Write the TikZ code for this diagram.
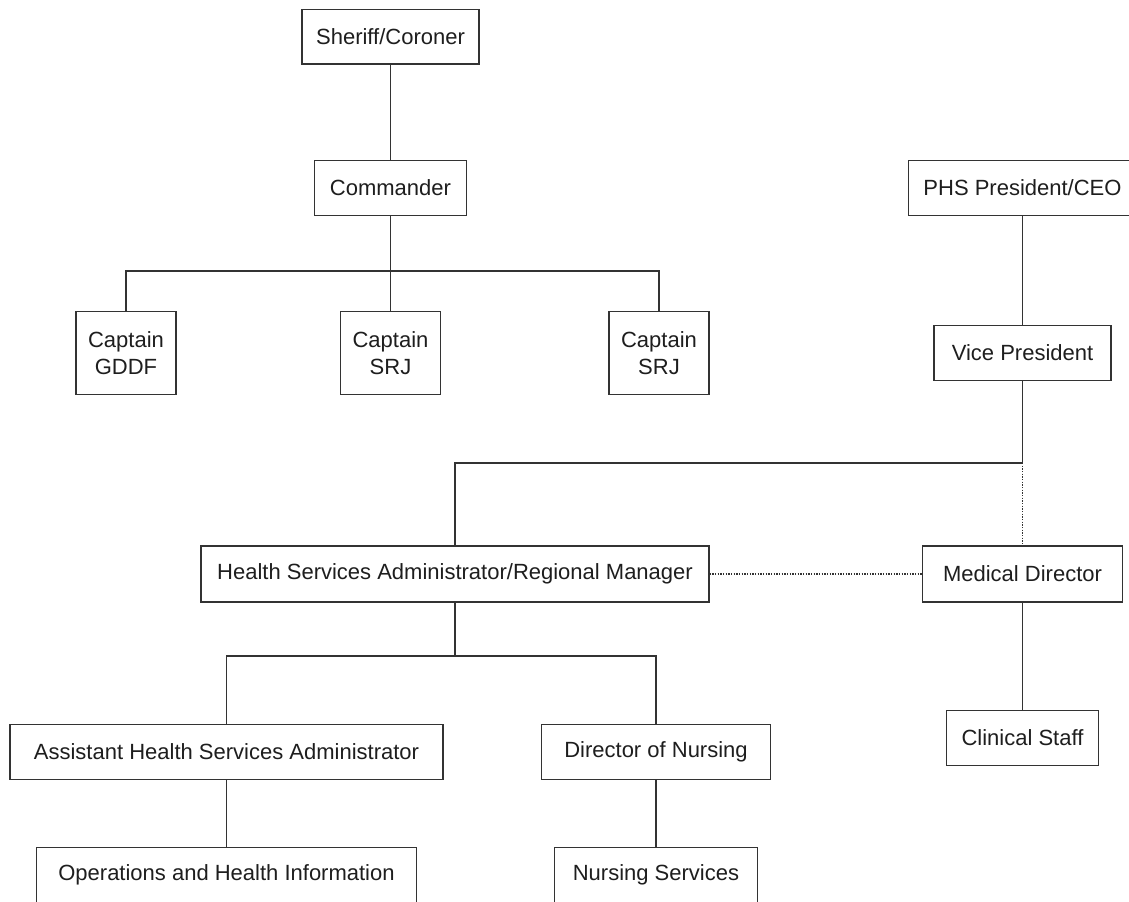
\documentclass[tikz,border=0pt]{standalone}
\usepackage{fontspec}
\setmainfont{Liberation Sans}
\definecolor{orgline}{RGB}{51,51,51}
\definecolor{orgtext}{RGB}{30,30,30}
\tikzset{every picture/.style={line width=1pt}}
\tikzset{orgbox/.style={draw=orgline, fill=white, text=orgtext, align=center, inner sep=0pt, minimum height=41pt, font=\fontsize{16.5}{20.6}\selectfont},
  tallbox/.style={orgbox, minimum height=62.25pt},
  orglink/.style={draw=orgline},
  duallink/.style={draw=orgline, densely dotted}}

\begin{document}
\begin{tikzpicture}[x=0.75pt,y=0.75pt,yscale=-1,xscale=1]
        \useasboundingbox (0,0) rectangle (1129,901);

        % Text Node
        \node [orgbox, minimum width=132.75pt] (sheriff) at (390.5,36.5) {Sheriff/Coroner};
        % Text Node
        \node [orgbox, minimum width=114pt] (commander) at (390.5,188) {Commander};
        % Text Node
        \node [tallbox, minimum width=75pt] (capgddf) at (126,353) {Captain\\GDDF};
        % Text Node
        \node [tallbox, minimum width=75pt] (capsrja) at (390.5,353) {Captain\\SRJ};
        % Text Node
        \node [tallbox, minimum width=75pt] (capsrjb) at (659,353) {Captain\\SRJ};
        % Text Node
        \node [orgbox, minimum width=171pt] (phs) at (1022.5,188) {PHS President/CEO};
        % Text Node
        \node [orgbox, minimum width=132.75pt] (vp) at (1022.5,353) {Vice President};
        % Text Node
        \node [orgbox, minimum width=381pt, minimum height=42pt] (hsa) at (455,574) {Health Services Administrator/Regional Manager};
        % Text Node
        \node [orgbox, minimum width=150pt, minimum height=42pt] (meddir) at (1022.5,574) {Medical Director};
        % Text Node
        \node [orgbox, minimum width=324.75pt] (ahsa) at (226.5,752) {Assistant Health Services Administrator};
        % Text Node
        \node [orgbox, minimum width=171.75pt] (nursedir) at (656,752) {Director of Nursing};
        % Text Node
        \node [orgbox, minimum width=114pt] (clinical) at (1022.5,738) {Clinical Staff};
        % Text Node
        \node [orgbox, minimum width=285pt] (ops) at (226.5,875) {Operations and Health Information};
        % Text Node
        \node [orgbox, minimum width=152.25pt] (nursing) at (656,875) {Nursing Services};

        % Bar points
        \coordinate (capbar) at (390.5,271);
        \coordinate (vpbar) at (1022.5,463);
        \coordinate (hsabar) at (455,656);

        %Straight Lines
        \draw [orglink] (sheriff) -- (commander);
        \draw [orglink] (commander) -- (capsrja);
        \draw [orglink] (capgddf.north) |- (capbar) -| (capsrjb.north);
        %Straight Lines
        \draw [orglink] (phs) -- (vp);
        \draw [orglink] (vp.south) -- (vpbar) -| (hsa.north);
        \draw [duallink] (vpbar) -- (meddir.north);
        \draw [duallink] (hsa.east) -- (meddir.west);
        \draw [orglink] (meddir) -- (clinical);
        %Straight Lines
        \draw [orglink] (hsa.south) -- (hsabar);
        \draw [orglink] (ahsa.north) |- (hsabar) -| (nursedir.north);
        \draw [orglink] (ahsa) -- (ops);
        \draw [orglink] (nursedir) -- (nursing);

\end{tikzpicture}
\end{document}
